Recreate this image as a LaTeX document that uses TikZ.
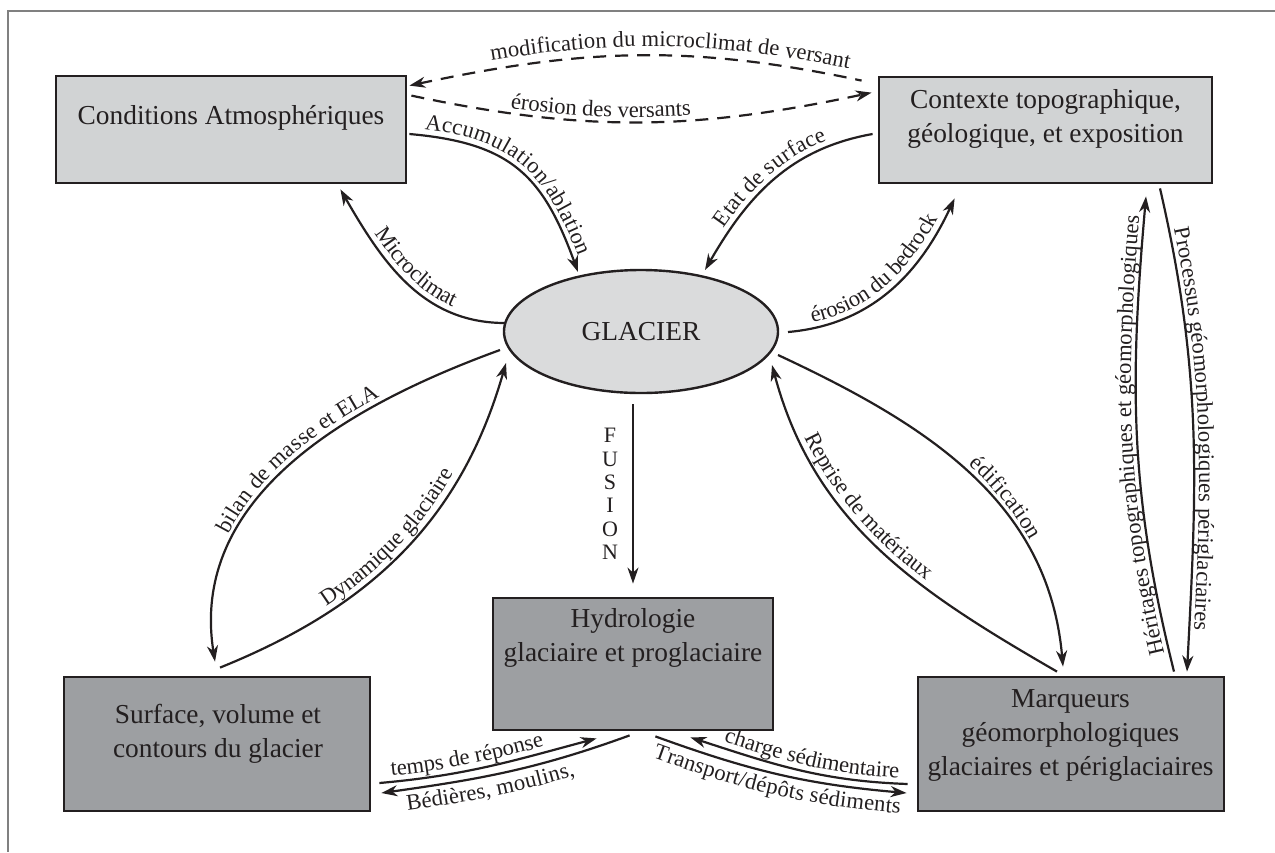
\documentclass[tikz,border=0pt]{standalone}
\usepackage{fontspec}
\setmainfont{Liberation Serif}
\usetikzlibrary{shapes.geometric,arrows.meta,calc,decorations.text}

\definecolor{ink}{HTML}{231F20}
\definecolor{clair}{HTML}{D1D3D4}
\definecolor{clairell}{HTML}{DADBDC}
\definecolor{fonce}{HTML}{9D9FA2}
\definecolor{cadre}{HTML}{808080}

\newcommand{\boxfont}{\fontsize{13.7}{17}\selectfont}
\newcommand{\lblfont}{\fontsize{11.3}{13}\selectfont}

\begin{document}
\begin{tikzpicture}[x=0.5pt, y=0.5pt, >={Stealth[length=8pt,width=5.5pt,inset=2.5pt]},
    lightbox/.style={draw=ink, fill=clair, line width=1.4pt, inner sep=0pt},
    darkbox/.style={draw=ink, fill=fonce, line width=1.4pt, inner sep=0pt},
    boxtxt/.style={text=ink, font=\boxfont, align=center, inner sep=0pt},
    fusiontxt/.style={text=ink, font=\fontsize{11}{11.7}\selectfont, align=center, inner sep=0pt},
    arr/.style={draw=ink, line width=1.1pt},
    tirets/.style={dash pattern=on 6.5pt off 4.5pt},
    lbl/.style n args={3}{postaction={decorate, decoration={text along path, text align={#1}, raise=#2, text color=ink, text={|\lblfont|#3}}}}]
\useasboundingbox (0,0) rectangle (1275,-852);

% cadre
\draw[cadre, line width=0.7pt] (1275,-11) -- (8,-11) -- (8,-852);

% boites
\node[lightbox, minimum width=175pt, minimum height=53.5pt] (cond) at (231,-129.5) {};
\node[boxtxt] (condtxt) at (231,-118) {Conditions Atmosphériques};
\node[lightbox, minimum width=166.5pt, minimum height=53pt] (ctx) at (1045.5,-130) {};
\node[boxtxt] (ctxtxt) at (1045.5,-118.5) {Contexte topographique,\\géologique, et exposition};
\node[ellipse, draw=ink, fill=clairell, line width=1.2pt, inner sep=0pt, minimum width=137pt, minimum height=61.5pt, text=ink, font=\boxfont] (glacier) at (641,-331.5) {GLACIER};
\node[darkbox, minimum width=140pt, minimum height=66pt] (hydro) at (633,-664) {};
\node[boxtxt] (hydrotxt) at (633,-637.5) {Hydrologie\\glaciaire et proglaciaire};
\node[darkbox, minimum width=153pt, minimum height=67pt] (surf) at (217,-744) {};
\node[boxtxt] (surftxt) at (218,-733.5) {Surface, volume et\\contours du glacier};
\node[darkbox, minimum width=153pt, minimum height=67pt] (marq) at (1071,-744) {};
\node[boxtxt] (marqtxt) at (1070.5,-735.5) {Marqueurs\\géomorphologiques\\glaciaires et périglaciaires};

% liens en tirets
\draw[arr, tirets, <-, lbl={center, left indent=41pt, right indent=6pt}{4.5pt}{modification du microclimat de versant}]
  ($(cond.north east)+(2,-11)$) to[out=12, in=168] ($(ctx.north west)+(-16,-5)$);
\draw[arr, tirets, ->, lbl={left indent=50pt}{2.5pt}{érosion des versants}]
  ($(cond.north east)+(4,-21)$) to[out=-12, in=-168] ($(ctx.north west)+(-6,-17)$);

% autour du glacier
\draw[arr, ->, lbl={center}{3pt}{Accumulation/ablation}]
  ($(cond.east)+(2,-4.5)$) to[out=-5, in=110, looseness=1.2] ($(glacier)+(-63,59.5)$);
\draw[arr, <-, lbl={center}{3pt}{Microclimat}]
  ($(cond.south east)+(-67,-5)$) to[out=-60, in=180] ($(glacier)+(-136,8.5)$);
\draw[arr, <-, lbl={center}{3pt}{Etat de surface}]
  ($(glacier)+(64,61.5)$) to[out=60, in=190] ($(ctx.west)+(-5,-4)$);
\draw[arr, ->, lbl={center}{3pt}{érosion du bedrock}]
  ($(glacier)+(147,-0.5)$) to[out=5, in=-115] ($(ctx.south west)+(77,-14)$);
\draw[arr, <-, lbl={center}{3pt}{bilan de masse et ELA}]
  ($(surf.north)+(-2,14)$) to[out=99, in=200] ($(glacier)+(-141,-18.5)$);
\draw[arr, ->, lbl={center}{3pt}{Dynamique glaciaire}]
  ($(surf.north)+(3,8)$) to[out=22, in=-106] ($(glacier)+(-135,-31.5)$);
\draw[arr, ->] ($(glacier.south -| hydro.north)+(0,-10)$) -- node[fusiontxt, left=7pt] (fusion) {F\\U\\S\\I\\O\\N} ($(hydro.north)+(0,13)$);
\draw[arr, <-, lbl={center, right indent=40pt}{3pt}{Reprise de matériaux}]
  ($(glacier)+(131,-33.5)$) to[out=-75, in=150] ($(marq.north)+(-14,4)$);
\draw[arr, ->, lbl={center, left indent=45pt}{3pt}{édification}]
  ($(glacier)+(137,-23.5)$) to[out=-25, in=95] ($(marq.north)+(-8,9)$);

% a droite
\draw[arr, ->, lbl={center}{2.5pt}{Héritages topographiques et géomorphologiques}]
  ($(marq.north)+(103,4)$) to[out=104, in=-95] ($(ctx.south)+(100.5,-12)$);
\draw[arr, ->, lbl={center}{2.5pt}{Processus géomorphologiques périglaciaires}]
  ($(ctx.south)+(114.5,-4)$) to[out=-77, in=87] ($(marq.north)+(116,4)$);

% en bas
\draw[arr, ->, lbl={center, right indent=20pt}{3pt}{temps de réponse}]
  ($(surf.east)+(8,-39)$) to[out=5, in=195] ($(hydro.south west)+(105,-7)$);
\draw[arr, <-, lbl={center, right indent=20pt}{-10.5pt}{Bédières, moulins,}]
  ($(surf.east)+(10,-49)$) to[out=8, in=200] ($(hydro.south west)+(138,-4)$);
\draw[arr, <-, lbl={center, left indent=12pt}{3pt}{charge sédimentaire}]
  ($(hydro.south east)+(-84,-6)$) to[out=-18, in=178] ($(marq.west)+(-9,-40)$);
\draw[arr, ->, lbl={center}{-10.5pt}{Transport/dépôts sédiments}]
  ($(hydro.south east)+(-119,-5)$) to[out=-20, in=175] ($(marq.west)+(-10,-49)$);
\end{tikzpicture}
\end{document}
